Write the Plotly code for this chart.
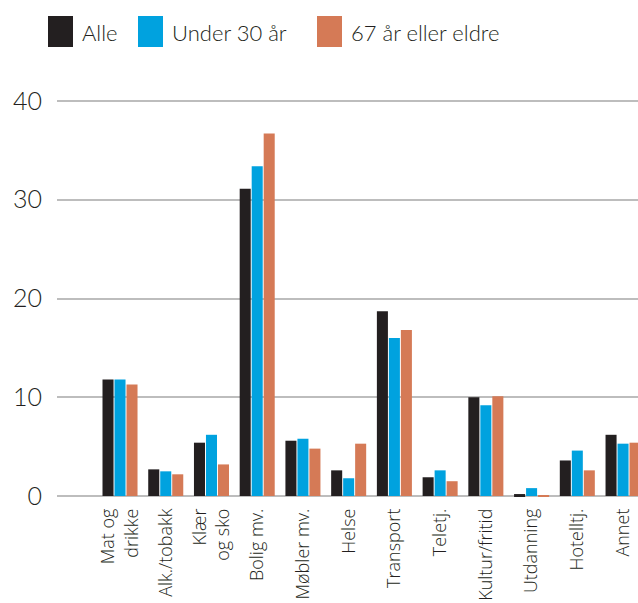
import plotly.graph_objects as go

categories = ["Mat og<br>drikke", "Alk./tobakk", "Klær<br>og sko", "Bolig mv.", "Møbler mv.",
              "Helse", "Transport", "Teletj.", "Kultur/fritid", "Utdanning", "Hotelltj.", "Annet"]
series_names = ["Alle", "Under 30 år", "67 år eller eldre"]
alle = [11.8, 2.7, 5.4, 31.1, 5.6, 2.6, 18.7, 1.9, 10.0, 0.2, 3.6, 6.2]
under30 = [11.8, 2.5, 6.2, 33.4, 5.8, 1.8, 16.0, 2.6, 9.2, 0.8, 4.6, 5.3]
over67 = [11.3, 2.2, 3.2, 36.7, 4.8, 5.3, 16.8, 1.5, 10.1, 0.1, 2.6, 5.4]
colors = ["#231f20", "#00a2df", "#d57a56"]
y_ticks = [0, 10, 20, 30, 40]

W, H = 638, 603
ML, MR, MT, MB = 57, 0, 99, 105
FONT = "Lato, 'Open Sans', sans-serif"
XFONT = "'Open Sans', Lato, sans-serif"
TXT = "#231f20"

fig = go.Figure()
xidx = list(range(len(categories)))
for name, vals, col in zip(series_names, [alle, under30, over67], colors):
    fig.add_trace(go.Bar(x=xidx, y=vals, name=name, marker=dict(color=col, line=dict(width=0)),
                         showlegend=False))

# manual legend (large square swatches as in the original)
plot_w = W - ML - MR
plot_h = H - MT - MB
def px_x(px):
    return (px - ML) / plot_w
def px_y(py):
    return (H - MB - py) / plot_h

legend_x = [48, 138, 317]
for name, col, lx in zip(series_names, colors, legend_x):
    fig.add_shape(type="rect", xref="paper", yref="paper",
                  x0=px_x(lx), x1=px_x(lx + 25), y0=px_y(47), y1=px_y(16),
                  fillcolor=col, line=dict(width=0))
    fig.add_annotation(xref="paper", yref="paper", x=px_x(lx + 32), y=px_y(33),
                       text=name, showarrow=False, xanchor="left", yanchor="middle",
                       font=dict(family=FONT, size=22, color=TXT, weight=300))

fig.update_layout(
    width=W, height=H,
    margin=dict(l=ML, r=MR, t=MT, b=MB, autoexpand=False),
    paper_bgcolor="white", plot_bgcolor="white",
    barmode="group", bargap=0.213, bargroupgap=0.08,
    font=dict(family=FONT, color=TXT),
)
fig.update_xaxes(
    tickmode="array", tickvals=xidx, ticktext=categories, automargin=False,
    range=[-1.378, 11.327], tickangle=-90, showgrid=False, zeroline=False,
    showline=False, ticks="", ticklabelstandoff=6,
    tickfont=dict(family=XFONT, size=18, color=TXT, weight=300),
)
fig.update_yaxes(
    range=[-0.2, 40.2], tickmode="array", tickvals=y_ticks, automargin=False,
    showgrid=True, gridcolor="#bdbdbd", gridwidth=1.5,
    zeroline=True, zerolinecolor="#bdbdbd", zerolinewidth=2,
    showline=False, ticks="", ticklabelstandoff=14,
    tickfont=dict(family=FONT, size=25, color=TXT, weight=300),
)

fig.write_html("out.html", config={"displayModeBar": False},
               post_script="document.body.style.margin='0';document.body.style.overflow='hidden';")
